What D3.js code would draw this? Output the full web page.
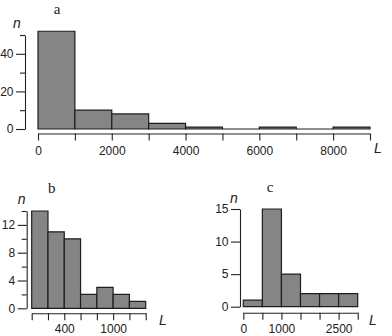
<!DOCTYPE html>
<html><head><meta charset="utf-8">
<script src="https://cdn.jsdelivr.net/npm/d3@7"></script>
<style>body{margin:0;background:#fff}svg{display:block}</style>
</head><body><svg width="392" height="336"></svg>
<script>
// Panel a
const aBreaks = [0,1000,2000,3000,4000,5000,6000,7000,8000,9000];
const aCounts = [52,10,8,3,1,0,1,0,1];
const aYTicks = [0,10,20,30,40,50];
const aYLabels = [0,20,40];
const aXTicks = [0,1000,2000,3000,4000,5000,6000,7000,8000,9000];
const aXLabels = [0,2000,4000,6000,8000];
// Panel b
const bBreaks = [0,200,400,600,800,1000,1200,1400];
const bCounts = [14,11,10,2,3,2,1];
const bYTicks = [0,2,4,6,8,10,12,14];
const bYLabels = [0,4,8,12];
const bXTicks = [0,200,400,600,800,1000,1200,1400];
const bXLabels = [400,1000];
// Panel c
const cBreaks = [0,500,1000,1500,2000,2500,3000];
const cCounts = [1,15,5,2,2,2];
const cYTicks = [0,5,10,15];
const cYLabels = [0,5,10,15];
const cXTicks = [0,500,1000,1500,2000,2500,3000];
const cXLabels = [0,1000,2500];

const svg = d3.select("svg");
const sans = "'Liberation Sans', Arial, sans-serif";

function panel(o){
  const g = svg.append("g");
  const x = d3.scaleLinear().domain([o.breaks[0], o.breaks[o.breaks.length-1]]).range(o.xr);
  const y = d3.scaleLinear().domain([0, d3.max(o.yTicks)]).range(o.yr);
  const bins = o.counts.map((c,i)=>({x0:o.breaks[i], x1:o.breaks[i+1], n:c}));
  g.selectAll("path.bar").data(bins).join("path").attr("class","bar")
    .attr("d", d=>`M${x(d.x0)},${y(0)}V${y(d.n)}H${x(d.x1)}V${y(0)}Z`)
    .attr("fill","#858585").attr("stroke","#1e1e1e").attr("stroke-width",1.2);
  // y axis
  const ya = g.append("g").attr("transform",`translate(${o.yAxisX},0)`)
    .call(d3.axisLeft(y).tickValues(o.yTicks).tickSize(9).tickSizeOuter(0).tickPadding(2.5)
      .tickFormat(v=>o.yLabels.includes(v)?v:""));
  ya.selectAll(".tick").filter(v=>!o.yLabels.includes(v)).select("line").attr("x2",-5);
  // x axis
  const xa = g.append("g").attr("transform",`translate(0,${o.xAxisY})`)
    .call(d3.axisBottom(x).tickValues(o.xTicks).tickSize(7).tickSizeOuter(0).tickPadding(o.xPad)
      .tickFormat(v=>o.xLabels.includes(v)?v:""));
  [ya,xa].forEach(a=>{
    a.attr("font-family",sans).attr("font-size",12);
    a.selectAll("path,line").attr("stroke","#222").attr("stroke-width",1.1);
    a.selectAll("text").attr("fill","#222");
  });
  g.append("text").attr("x",o.letter[0]).attr("y",o.letter[1]).attr("text-anchor","middle")
    .attr("font-family","'Liberation Serif', 'Times New Roman', serif").attr("font-size",15).attr("fill","#222").text(o.name);
  g.append("text").attr("x",o.nPos[0]).attr("y",o.nPos[1]).attr("text-anchor","middle")
    .attr("font-family",sans).attr("font-style","italic").attr("font-size",14).attr("fill","#222").text("n");
  g.append("text").attr("x",o.lPos[0]).attr("y",o.lPos[1]).attr("text-anchor","middle")
    .attr("font-family",sans).attr("font-style","italic").attr("font-size",14).attr("fill","#222").text("L");
}

panel({name:"a", breaks:aBreaks, counts:aCounts, yTicks:aYTicks, yLabels:aYLabels, xTicks:aXTicks, xLabels:aXLabels,
  xr:[38,370], yr:[129,35], yAxisX:25, xAxisY:133.5, xPad:6, letter:[57,13.5], nPos:[17,28], lPos:[378,153]});
panel({name:"b", breaks:bBreaks, counts:bCounts, yTicks:bYTicks, yLabels:bYLabels, xTicks:bXTicks, xLabels:bXLabels,
  xr:[31.7,145.7], yr:[308.3,211], yAxisX:26.7, xAxisY:313.3, xPad:4.5, letter:[51.7,192.5], nPos:[21.7,204], lPos:[163,325]});
panel({name:"c", breaks:cBreaks, counts:cCounts, yTicks:cYTicks, yLabels:cYLabels, xTicks:cXTicks, xLabels:cXLabels,
  xr:[243.3,357.7], yr:[306.7,209], yAxisX:240, xAxisY:312.7, xPad:4.5, letter:[270,192], nPos:[234,202.5], lPos:[373,325]});
</script></body></html>
